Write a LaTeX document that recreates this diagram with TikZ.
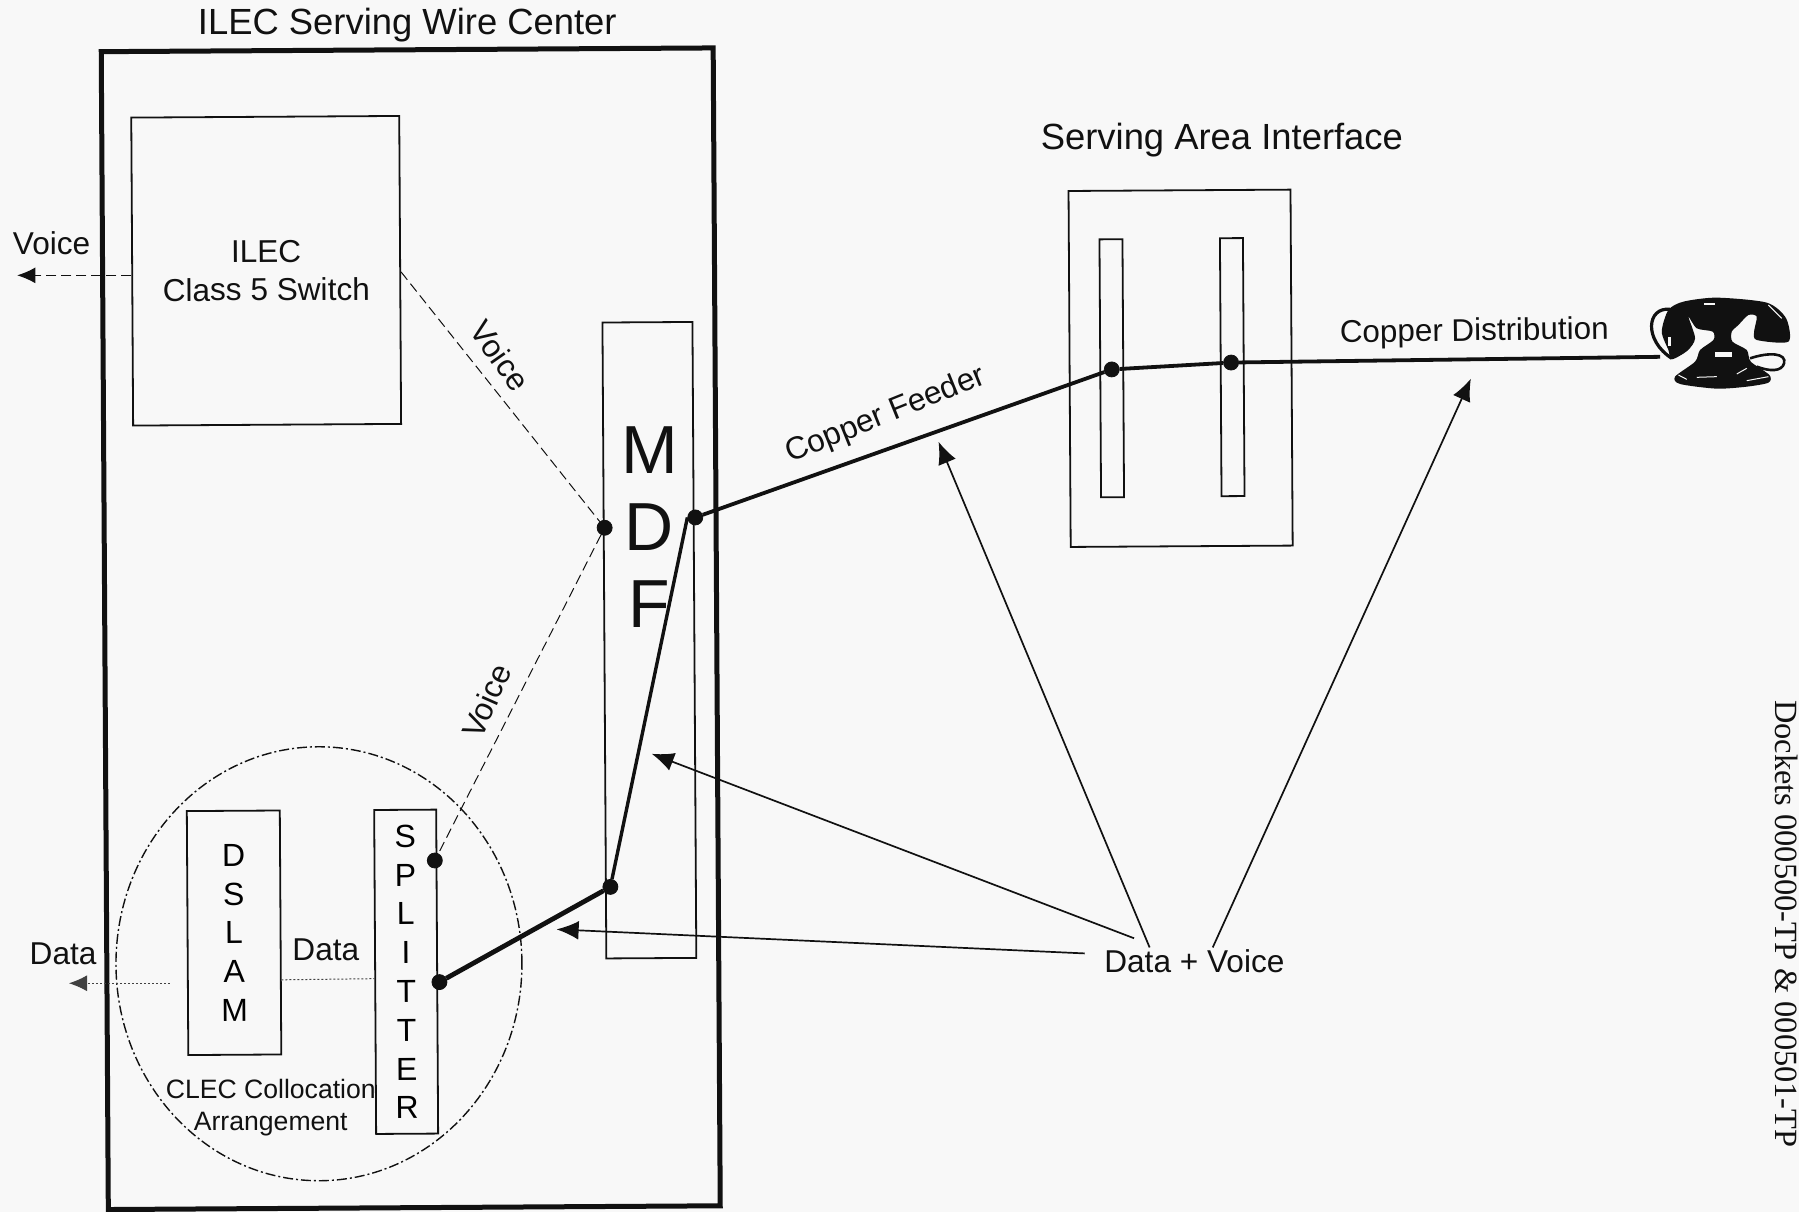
\documentclass[tikz,border=0pt]{standalone}
\usepackage{fontspec}
\setmainfont{Liberation Sans}
\newfontfamily\serifdocket{Liberation Serif}
\usepackage{xcolor}
\usepackage{tikz}
\usetikzlibrary{arrows.meta,positioning,calc,shapes.geometric}
\definecolor{scanpaper}{HTML}{F8F8F8}
\definecolor{scanink}{HTML}{111111}
\tikzset{
  flowarrow/.style={-{Latex[length=3.9mm,width=3.3mm]}, line width=0.85pt, draw=scanink},
  copperline/.style={line width=1.9pt, draw=scanink},
  voiceline/.style={line width=0.5pt, draw=scanink, dash pattern=on 5pt off 2.5pt},
  dataline/.style={line width=0.5pt, draw=scanink!80, dash pattern=on 1pt off 1pt},
  framebox/.style={draw=scanink, rectangle, rotate=0.35, inner sep=0pt, line width=0.9pt},
  stackbox/.style={framebox, align=center, font=\fontsize{16}{19.4}\selectfont},
  joint/.style={circle, fill=scanink, draw=scanink, inner sep=0pt, minimum size=7.5pt},
  tag/.style={font=\fontsize{15.8}{19}\selectfont, text=scanink, inner sep=1pt, align=center},
  headtag/.style={font=\fontsize{18.2}{22}\selectfont, text=scanink, inner sep=1pt}
}

\begin{document}
\begin{tikzpicture}[x=0.5737pt, y=-0.5737pt]
        \useasboundingbox[fill=scanpaper] (0,0) rectangle (1568,1056);

        \node[framebox, line width=2.5pt, minimum width=306pt, minimum height=579pt] at (358,548) (office) {};
        \node[framebox, minimum width=134pt, minimum height=154pt, tag] at (232,236) (switch) {ILEC\\Class 5 Switch};
        \node[framebox, minimum width=45pt, minimum height=318pt] at (566,558) (mdf) {};
        \node[stackbox, minimum width=46.5pt, minimum height=122pt] at (204,813) (dslam) {D\\S\\L\\A\\M};
        \node[stackbox, minimum width=31pt, minimum height=162pt] at (354,847) (splitter) {S\\P\\L\\I\\T\\T\\E\\R};
        \node[framebox, minimum width=111pt, minimum height=178pt] at (1029,321) (sai) {};
        \node[framebox, minimum width=11.5pt, minimum height=129pt] at (969,321) (slota) {};
        \node[framebox, minimum width=11.5pt, minimum height=129pt] at (1074,320) (slotb) {};
        \node[ellipse, draw=scanink, line width=0.7pt, dash pattern=on 5pt off 1.5pt on 1pt off 1.5pt, inner sep=0pt, minimum width=203pt, minimum height=217pt] at (278,840) (colloc) {};

        % labels
        \node[headtag] at (355,22) (officetag) {ILEC Serving Wire Center};
        \node[headtag] at (1065,122) (saitag) {Serving Area Interface};
        \node[font=\fontsize{34}{38.5}\selectfont, align=center, text=scanink, inner sep=0pt] at (566,459) (mdftag) {M\\D\\F};
        \node[tag] at (45,212) (voicea) {Voice};
        \node[tag, rotate=-55] at (436,310) (voiceb) {Voice};
        \node[tag, rotate=66] at (424,611) (voicec) {Voice};
        \node[tag] at (55,831) (dataa) {Data};
        \node[tag] at (284,828) (datab) {Data};
        \node[tag, font=\fontsize{13.3}{16}\selectfont] at (236,965) (collotag) {CLEC Collocation\\Arrangement};
        \node[tag, rotate=22] at (772,362) (feeder) {Copper Feeder};
        \node[tag, font=\fontsize{15.7}{19}\selectfont, rotate=0.8] at (1285,290) (distrib) {Copper Distribution};
        \node[tag] at (1041,838) (mixed) {Data + Voice};
        \node[font=\serifdocket\fontsize{16.2}{19}\selectfont, rotate=-90, text=scanink, inner sep=0pt, anchor=west] at (1557,610) (docket) {Dockets 000500-TP \& 000501-TP};

        % joints
        \node[joint] at (527,460) (jvoice) {};
        \node[joint] at (606,451) (jline) {};
        \node[joint] at (532,773) (jmdf) {};
        \node[joint] at (379,750) (jsplitv) {};
        \node[joint] at (383,856) (jsplitd) {};
        \node[joint] at (969,322) (jsaia) {};
        \node[joint] at (1073,316) (jsaib) {};

        \coordinate (phone) at (1447,311);
        \coordinate (voiceout) at (15,240);
        \coordinate (dataout) at (60,857);
        \coordinate (hitfeeder) at (818,385);
        \coordinate (hitdist) at (1282,330);
        \coordinate (hitmdf) at (568,657);
        \coordinate (hitsplit) at (485,810);

        \draw[voiceline] (switch.east |- 0,237) -- (jvoice);
        \draw[voiceline] (jvoice) -- (jsplitv);
        \draw[voiceline, -{Latex[length=3.2mm,width=2.8mm]}] (switch.west |- 0,240) -- (voiceout);
        \draw[dataline] (dslam.east |- 0,854) -- (splitter.west |- 0,853);
        \draw[dataline, -{Latex[length=3.2mm,width=2.8mm]}] (148,857) -- (dataout);
        \draw[copperline] (jline) -- (jsaia);
        \draw[copperline] (jsaia) -- (jsaib);
        \draw[copperline] (jsaib) -- (phone);
        \draw[copperline, line width=1.7pt] (jline.west) -- (jmdf);
        \draw[copperline, line width=2.4pt] (jmdf) -- (jsplitd);
        \draw[flowarrow] (mixed.north -| 1002,803) -- (hitfeeder);
        \draw[flowarrow] (mixed.north -| 1057,803) -- (hitdist);
        \draw[flowarrow] ($(mixed.north west)+(28,-8)$) -- (hitmdf);
        \draw[flowarrow] ($(mixed.west)+(-15,-7)$) -- (hitsplit);

        % telephone
        \begin{scope}[shift={(1394.6,226.6)}, x=0.1667pt, y=-0.1667pt]
            \fill[scanink] plot[smooth cycle, tension=0.45] coordinates {
              (205,150) (250,125) (350,113) (500,128) (558,175) (565,245) (470,240)
              (462,215) (470,170) (445,165) (415,195) (395,215) (397,245) (440,270)
              (452,305) (508,345) (505,368) (440,380) (350,386) (240,372) (225,350)
              (285,305) (300,270) (340,240) (338,215) (290,205) (265,170) (285,235)
              (262,272) (215,298) (205,270) (185,215)};
            \draw[scanink, line width=1.6pt] (210,148) .. controls (140,140) and (130,240) .. (215,295);
            \draw[scanink, line width=1.3pt] (450,295) .. controls (510,275) and (560,280) .. (552,310) .. controls (545,335) and (510,335) .. (470,320);
            \fill[scanpaper] (345,275) rectangle (395,290);
            \fill[scanpaper] (205,230) rectangle (214,258);
            \fill[scanpaper] (312,128) rectangle (345,135);
            \draw[scanpaper, line width=0.5pt] (235,345) -- (260,358);
            \draw[scanpaper, line width=0.5pt] (440,362) -- (505,350);
            \draw[scanpaper, line width=0.5pt] (290,352) -- (350,350);
            \draw[scanpaper, line width=0.5pt] (410,342) -- (440,325);
            \draw[scanpaper, line width=0.5pt] (505,135) -- (545,175);
        \end{scope}
    \end{tikzpicture}
\end{document}
